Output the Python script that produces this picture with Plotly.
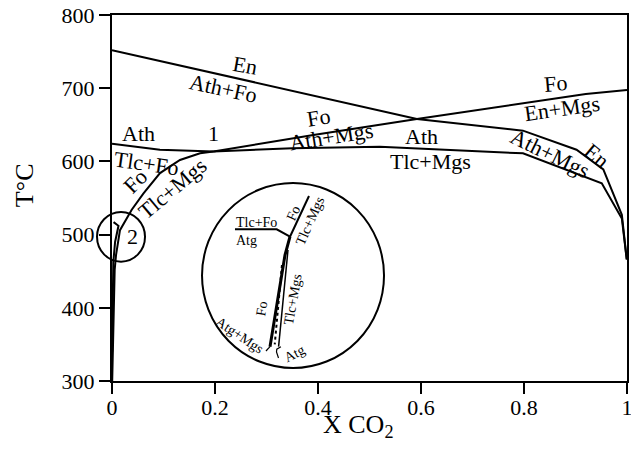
import plotly.graph_objects as go

FONT = "Liberation Serif"

# ---- main phase boundaries (X CO2, T °C) ----
lineA_x = [0.0, 0.592, 0.798, 0.902, 0.954, 0.990, 0.9995]
lineA_y = [752, 658, 642, 616, 589, 527, 466]

lineB_x = [0.0, 0.093, 0.197, 0.35, 0.52, 0.798, 0.951, 0.990, 0.9995]
lineB_y = [624, 616, 613.5, 618, 620, 611, 570, 522, 466]

lineC_x = [0.197, 0.391, 0.592, 0.80, 0.92, 1.0]
lineC_y = [613.5, 636, 658, 680, 692, 697.5]

lineD_x = [0.0004, 0.0014, 0.0025, 0.0052, 0.0078, 0.0117, 0.0155, 0.0383,
           0.0608, 0.0932, 0.132, 0.171, 0.197]
lineD_y = [300, 333, 370, 452, 472, 493, 506, 534, 556, 584, 602, 611, 613.5]

lineE_x = [0.0003, 0.001, 0.0025, 0.006, 0.011, 0.0126, 0.003]
lineE_y = [340, 400, 462, 490, 505, 512, 517]

# ---- inset (enlargement of circle 2) ----
inH_x = [0.2388, 0.3198, 0.3456]
inH_y = [507.2, 507.2, 497.1]
inTop_x = [0.3456, 0.3825]
inTop_y = [497.1, 552.7]
inLeft_x = [0.3456, 0.3359, 0.3068]
inLeft_y = [497.1, 472.1, 346.9]
inRight_x = [0.3417, 0.3235]
inRight_y = [478.9, 346.9]
inDot_x = [0.3300, 0.3160]
inDot_y = [458.5, 350.0]
inHook_x = [0.3280, 0.3200, 0.3194, 0.3233]
inHook_y = [346.7, 343.5, 339.6, 331.4]
inTick_x = [0.3068, 0.2990]
inTick_y = [346.9, 341.0]

# circles: center x, center T, radius x, radius T
big_circle = [0.3515, 444.1, 0.1767, 126.4]
small_circle = [0.0175, 497.0, 0.0466, 34.0]

# ---- labels ----
main_labels = ["En", "Ath+Fo", "Ath", "1", "Tlc+Fo", "Fo", "Tlc+Mgs", "Fo", "Ath+Mgs",
               "Ath", "Tlc+Mgs", "Fo", "En+Mgs", "Ath+Mgs", "En", "2"]
main_lx = [0.2583, 0.2161, 0.0511, 0.1967, 0.0674, 0.0447, 0.1175, 0.4006, 0.4266,
           0.6014, 0.6175, 0.8602, 0.8732, 0.8505, 0.9412, 0.0394]
main_ly = [731.7, 699.9, 638.4, 638.4, 597.4, 572.3, 563.0, 660.2, 633.8,
           633.8, 599.6, 706.7, 672.5, 611.1, 608.7, 497.1]
main_rot = [10, 12, 0, 0, 8, -45, -40, -9, -9, 0, 0, -5, -8, 26, 40, 0]

inset_labels = ["Tlc+Fo", "Atg", "Fo", "Tlc+Mgs", "Fo", "Tlc+Mgs", "Atg+Mgs", "Atg"]
inset_lx = [0.281, 0.2615, 0.352, 0.3845, 0.2907, 0.352, 0.2485, 0.3553]
inset_ly = [517.2, 492.6, 529.1, 517.6, 399.3, 410.7, 362.8, 337.8]
inset_rot = [0, 0, -66, -66, -80, -80, 34, -27]

x_ticks = [0, 0.2, 0.4, 0.6, 0.8, 1]
x_ticktext = ["0", "0.2", "0.4", "0.6", "0.8", "1"]
y_ticks = [300, 400, 500, 600, 700, 800]

fig = go.Figure()


def add_line(x, y, width=2, dash="solid"):
    fig.add_trace(go.Scatter(x=x, y=y, mode="lines",
                             line=dict(color="black", width=width, dash=dash),
                             hoverinfo="skip", showlegend=False))


for lx, ly in [(lineA_x, lineA_y), (lineB_x, lineB_y), (lineC_x, lineC_y),
               (lineD_x, lineD_y), (lineE_x, lineE_y)]:
    add_line(lx, ly, 2)

add_line(inH_x, inH_y, 2)
add_line(inTop_x, inTop_y, 2)
add_line(inLeft_x, inLeft_y, 3)
add_line(inRight_x, inRight_y, 1.5)
add_line(inDot_x, inDot_y, 2, "dot")
add_line(inHook_x, inHook_y, 1.2)
add_line(inTick_x, inTick_y, 1.2)

cx, cy, rx, ry = big_circle
fig.add_shape(type="circle", xref="x", yref="y", x0=cx - rx, x1=cx + rx,
              y0=cy - ry, y1=cy + ry, line=dict(color="black", width=2))
# small circle crosses the y axis: use paper coords (x range is 0..1)
cx, cy, rx, ry = small_circle
fig.add_shape(type="circle", xref="paper", yref="paper",
              x0=cx - rx, x1=cx + rx,
              y0=(cy - ry - 300) / 500, y1=(cy + ry - 300) / 500,
              line=dict(color="black", width=2))

for t, x, y, r in zip(main_labels, main_lx, main_ly, main_rot):
    fig.add_annotation(x=x, y=y, text=t, textangle=r, showarrow=False,
                       xanchor="center", yanchor="middle",
                       font=dict(family=FONT, size=22, color="black"))
for t, x, y, r in zip(inset_labels, inset_lx, inset_ly, inset_rot):
    fig.add_annotation(x=x, y=y, text=t, textangle=r, showarrow=False,
                       xanchor="center", yanchor="middle",
                       font=dict(family=FONT, size=14, color="black"))

# axis titles
fig.add_annotation(xref="paper", yref="paper", x=-0.171, y=0.535, text="T°C",
                   textangle=-90, showarrow=False, xanchor="center", yanchor="middle",
                   font=dict(family=FONT, size=26, color="black"))
fig.add_annotation(xref="paper", yref="paper", x=0.478, y=-0.075, yanchor="top",
                   xanchor="center", text="X CO<sub>2</sub>", showarrow=False,
                   font=dict(family=FONT, size=26, color="black"))

axis_common = dict(showline=True, linewidth=2, linecolor="black", mirror=True,
                   ticks="outside", ticklen=11, tickwidth=2, tickcolor="black",
                   showgrid=False, zeroline=False, automargin=False,
                   ticklabeloverflow="allow",
                   tickfont=dict(family=FONT, size=22, color="black"))
fig.update_xaxes(range=[0, 1], tickvals=x_ticks, ticktext=x_ticktext,
                 ticklabelstandoff=-5, **axis_common)
fig.update_yaxes(range=[300, 800], tickvals=y_ticks, **axis_common)

# the page body adds an 8px margin, so the figure is shifted by 8px
fig.update_layout(width=631, height=447,
                  margin=dict(l=104, r=12, t=7, b=74, autoexpand=False),
                  plot_bgcolor="white", paper_bgcolor="white",
                  font=dict(family=FONT, color="black"))

fig.write_html("out.html")
